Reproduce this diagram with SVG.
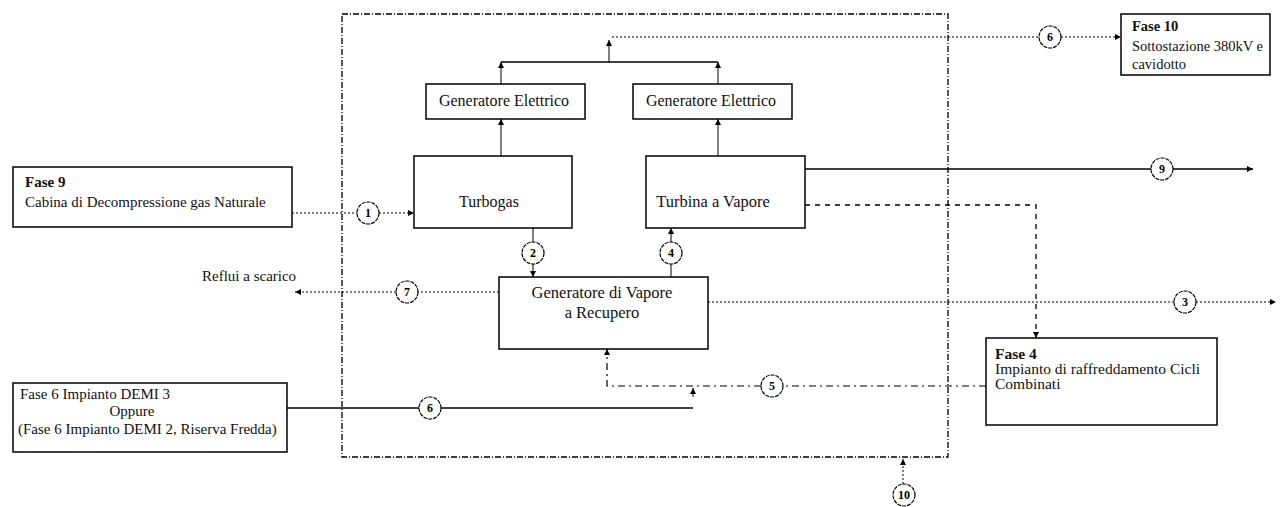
<svg xmlns="http://www.w3.org/2000/svg" width="1280" height="507" viewBox="0 0 1280 507">
<style>
  .box { fill: #fff; stroke: #000; stroke-width: 1.5; }
  .t { font-family: "Liberation Serif", "Times New Roman", serif; font-size: 15px; fill: #111; }
  .m { font-size: 16px; }
  .tb { font-weight: bold; }
  .c { text-anchor: middle; }
  .ln { fill: none; stroke: #000; stroke-width: 1; }
  .solid { stroke-width: 1.4; }
  .dot { stroke-dasharray: 2 2; }
  .dash { stroke-dasharray: 5 5; stroke-width: 1.3; }
  .dashdot { stroke-dasharray: 7 4 2 4; stroke-width: 1.2; }
  .circ { fill: #fff; stroke: #000; stroke-width: 1.2; stroke-dasharray: 4 1; }
  .ct { font-family: "Liberation Serif", "Times New Roman", serif; font-size: 12px; font-weight: bold; text-anchor: middle; fill: #000; }
</style>
<defs>
  <marker id="ah" viewBox="0 0 10 10" refX="10" refY="5" markerWidth="6" markerHeight="6" orient="auto" markerUnits="userSpaceOnUse">
    <path d="M0,0 L10,5 L0,10 z" fill="#000"/>
  </marker>
</defs>
<rect width="1280" height="507" fill="#fff"/>

<g id="boundary">
  <rect x="342" y="14" width="606" height="443" fill="none" stroke="#000" stroke-width="1.3" stroke-dasharray="6 2 1 2"/>
</g>

<g id="connectors">
  <path class="ln dot" d="M292,213 L357,213"/>
  <path class="ln dot" d="M379,213 L414,213" marker-end="url(#ah)"/>
  <path class="ln" d="M501,156 L501,119" marker-end="url(#ah)"/>
  <path class="ln" d="M718,156 L718,119" marker-end="url(#ah)"/>
  <path class="ln" d="M501,84 L501,62" marker-end="url(#ah)"/>
  <path class="ln" d="M718,84 L718,62" marker-end="url(#ah)"/>
  <path class="ln solid" d="M501,62 L718,62"/>
  <path class="ln" d="M609,62 L609,40" marker-end="url(#ah)"/>
  <path class="ln dot" d="M612,37 L1039,37"/>
  <path class="ln dot" d="M1061,37 L1121,37" marker-end="url(#ah)"/>
  <path class="ln" d="M533,228 L533,242"/>
  <path class="ln" d="M533,264 L533,277" marker-end="url(#ah)"/>
  <path class="ln" d="M671,277 L671,264"/>
  <path class="ln" d="M671,242 L671,228" marker-end="url(#ah)"/>
  <path class="ln solid" d="M805,169 L1151,169"/>
  <path class="ln solid" d="M1173,169 L1253,169" marker-end="url(#ah)"/>
  <path class="ln dash" d="M805,205 L1036,205 L1036,338" marker-end="url(#ah)"/>
  <path class="ln dot" d="M499,292 L418,292"/>
  <path class="ln dot" d="M396,292 L295,292" marker-end="url(#ah)"/>
  <path class="ln dot" d="M708,302 L1174,302"/>
  <path class="ln dot" d="M1196,302 L1276,302" marker-end="url(#ah)"/>
  <path class="ln dashdot" d="M986,386 L783,386"/>
  <path class="ln dashdot" d="M761,386 L607,386 L607,349" marker-end="url(#ah)"/>
  <path class="ln solid" d="M287,408 L419,408"/>
  <path class="ln solid" d="M441,408 L693,408"/>
  <path class="ln" d="M693,397 L693,388" marker-end="url(#ah)"/>
  <path class="ln dot" d="M903,484 L903,459" marker-end="url(#ah)"/>
</g>

<g id="circles">
  <g id="c1"><circle class="circ" cx="368" cy="213" r="11"/><text class="ct" x="368" y="217">1</text></g>
  <g id="c2"><circle class="circ" cx="533" cy="253" r="11"/><text class="ct" x="533" y="257">2</text></g>
  <g id="c4"><circle class="circ" cx="671" cy="253" r="11"/><text class="ct" x="671" y="257">4</text></g>
  <g id="c6top"><circle class="circ" cx="1050" cy="37" r="11"/><text class="ct" x="1050" y="41">6</text></g>
  <g id="c9"><circle class="circ" cx="1162" cy="169" r="11"/><text class="ct" x="1162" y="173">9</text></g>
  <g id="c7"><circle class="circ" cx="407" cy="292" r="11"/><text class="ct" x="407" y="296">7</text></g>
  <g id="c3"><circle class="circ" cx="1185" cy="302" r="11"/><text class="ct" x="1185" y="306">3</text></g>
  <g id="c5"><circle class="circ" cx="772" cy="386" r="11"/><text class="ct" x="772" y="390">5</text></g>
  <g id="c6"><circle class="circ" cx="430" cy="408" r="11"/><text class="ct" x="430" y="412">6</text></g>
  <g id="c10"><circle class="circ" cx="904" cy="495" r="11"/><text class="ct" x="904" y="499">10</text></g>
</g>

<g id="fase9">
  <rect class="box" x="13" y="167" width="279" height="60"/>
  <text class="t tb" x="25" y="187">Fase 9</text>
  <text class="t" x="25" y="207">Cabina di Decompressione gas Naturale</text>
</g>

<g id="gen1">
  <rect class="box" x="426" y="84" width="159" height="35"/>
  <text class="t m c" x="504" y="106">Generatore Elettrico</text>
</g>

<g id="gen2">
  <rect class="box" x="633" y="84" width="159" height="35"/>
  <text class="t m c" x="711" y="106">Generatore Elettrico</text>
</g>

<g id="turbogas">
  <rect class="box" x="414" y="156" width="158" height="72"/>
  <text class="t m c" x="489" y="207">Turbogas</text>
</g>

<g id="turbina">
  <rect class="box" x="646" y="156" width="159" height="72"/>
  <text class="t c" x="713" y="207" style="font-size:16.5px">Turbina a Vapore</text>
</g>

<g id="gvr">
  <rect class="box" x="499" y="277" width="209" height="72"/>
  <text class="t c" x="602" y="298" style="font-size:16.5px">Generatore di Vapore</text>
  <text class="t c" x="602" y="318" style="font-size:16.5px">a Recupero</text>
</g>

<g id="reflui">
  <text class="t" x="202" y="281">Reflui a scarico</text>
</g>

<g id="fase10">
  <rect class="box" x="1121" y="14" width="149" height="61"/>
  <text class="t tb" x="1132" y="31" style="font-size:14.5px">Fase 10</text>
  <text class="t" x="1132" y="51" style="font-size:14.5px">Sottostazione 380kV e</text>
  <text class="t" x="1132" y="69" style="font-size:14.5px">cavidotto</text>
</g>

<g id="fase4">
  <rect class="box" x="986" y="338" width="231" height="87"/>
  <text class="t tb" x="995" y="359" style="font-size:15.5px">Fase 4</text>
  <text class="t" x="995" y="374" style="font-size:15.5px">Impianto di raffreddamento Cicli</text>
  <text class="t" x="995" y="389" style="font-size:15.5px">Combinati</text>
</g>

<g id="fase6">
  <rect class="box" x="13" y="383" width="274" height="69"/>
  <text class="t" x="20" y="399">Fase 6 Impianto DEMI 3</text>
  <text class="t c" x="132" y="416">Oppure</text>
  <text class="t" x="18" y="434">(Fase 6 Impianto DEMI 2, Riserva Fredda)</text>
</g>
</svg>
